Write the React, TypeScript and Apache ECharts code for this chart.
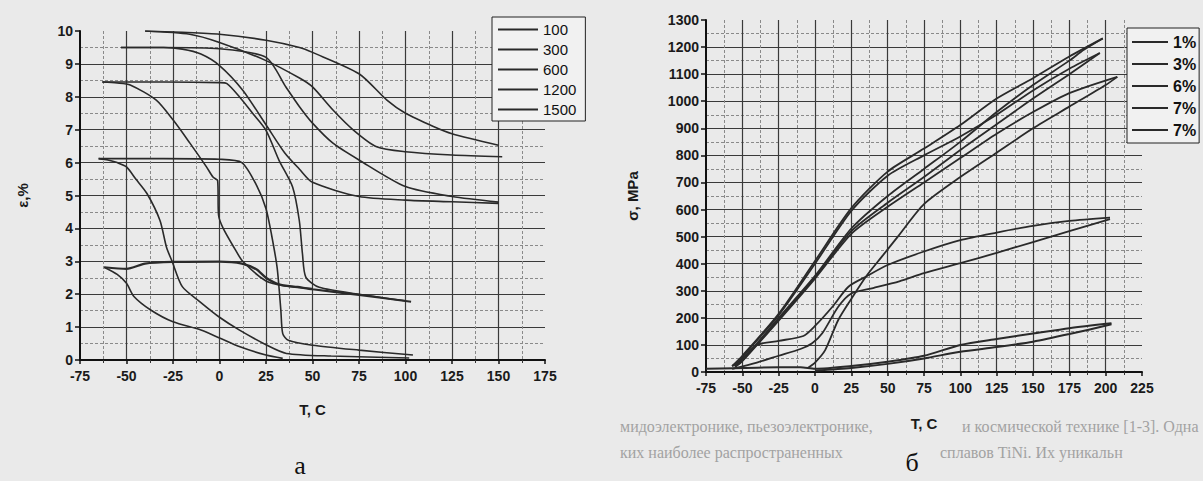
import React, { useEffect, useRef } from "react";
import * as echarts from "echarts";

type P = [number, number][];

// ---------- left chart: strain vs temperature ----------
const leftNames = ["100", "300", "600", "1200", "1500"];
const leftXTicks = { min: -75, max: 175, step: 25 };
const leftYTicks = { min: 0, max: 10, step: 1 };

const eps100Low: P = [[-62, 2.82], [-55, 2.6], [-50, 2.33], [-46, 1.93], [-37, 1.52], [-25, 1.16], [-10, 0.91], [0, 0.67], [11, 0.4], [25, 0.15], [34, 0.05]];
const eps100Up: P = [[-62, 2.82], [-50, 2.77], [-40, 2.93], [-25, 2.98], [0, 2.99], [12, 2.93], [20, 2.75], [25, 2.5], [32, 2.3], [42, 2.22], [50, 2.15], [75, 1.98], [103, 1.77]];
const eps300Low: P = [[-65, 6.12], [-60, 6.08], [-55, 6.0], [-50, 5.87], [-45, 5.5], [-39, 5.06], [-32, 4.24], [-28.5, 3.43], [-25.5, 3.0], [-20, 2.23], [-10.5, 1.77], [0, 1.3], [11, 0.9], [25.5, 0.45], [36, 0.2], [60, 0.12], [102, 0.06]];
const eps300Up: P = [[-65, 6.12], [-30, 6.12], [0, 6.1], [12, 6.0], [20, 5.3], [25, 4.6], [28, 3.8], [31, 2.8], [33, 1.5], [34, 0.8], [37, 0.6], [50, 0.45], [75, 0.3], [104, 0.15]];
const eps600Low: P = [[-63, 8.45], [-55, 8.42], [-48, 8.36], [-34, 7.9], [-25, 7.3], [-16, 6.6], [-7, 5.87], [-3.5, 5.56], [-1, 5.45], [-0.5, 4.4], [2, 4.0], [8, 3.4], [12.5, 3.0], [25, 2.4], [35, 2.25], [50, 2.17]];
const eps600Up: P = [[-63, 8.45], [-30, 8.45], [0, 8.43], [4, 8.4], [10.7, 8.0], [17.9, 7.49], [25, 6.98], [32, 6.07], [39.3, 5.26], [42.9, 4.24], [44.6, 3.23], [46.4, 2.52], [53.6, 2.21], [75, 2.0], [100, 1.8]];
const eps1200Low: P = [[-53, 9.5], [-30, 9.5], [-20, 9.45], [-10, 9.3], [0, 8.95], [12.5, 8.2], [25, 7.15], [35, 6.3], [43, 5.8], [50, 5.4], [75, 4.97], [100, 4.86], [125, 4.81], [150, 4.76]];
const eps1200Up: P = [[-53, 9.5], [-30, 9.5], [0, 9.46], [25, 9.2], [35.7, 8.3], [43, 7.7], [50, 7.2], [61, 6.59], [75, 6.08], [100, 5.27], [125, 4.97], [150, 4.8]];
const eps1500Up: P = [[-40, 10.0], [-20, 9.96], [0, 9.9], [25, 9.72], [43, 9.5], [50, 9.35], [75, 8.7], [90, 7.9], [100, 7.5], [115, 7.1], [125, 6.88], [150, 6.53]];
const eps1500Low: P = [[-40, 10.0], [-16, 9.9], [0, 9.65], [25, 9.1], [43, 8.57], [50, 8.3], [61, 7.6], [72, 6.99], [84.5, 6.48], [100, 6.33], [125, 6.23], [152, 6.18]];

// ---------- right chart: stress vs temperature ----------
const rightNames = ["1%", "3%", "6%", "7%", "7% "];
const rightXTicks = { min: -75, max: 225, step: 25 };
const rightYTicks = { min: 0, max: 1300, step: 100 };

const sig1A: P = [[-75, 12], [-40, 16], [-10, 18], [0, 12], [25, 22], [50, 38], [75, 60], [100, 100], [125, 122], [150, 142], [175, 162], [204, 180]];
const sig1B: P = [[204, 176], [175, 140], [150, 112], [125, 92], [100, 75], [75, 50], [50, 30], [25, 15], [0, 5]];
const sig3A: P = [[-57, 22], [-50, 50], [-40, 100], [-25, 115], [-8, 133], [0, 170], [12, 241], [23, 315], [35, 352], [50, 395], [75, 445], [100, 487], [125, 515], [150, 540], [175, 558], [203, 570]];
const sig3B: P = [[203, 565], [175, 520], [150, 480], [125, 440], [100, 402], [75, 365], [58, 335], [40, 310], [25, 290], [16, 241], [5, 143], [-2, 106], [-10, 85], [-25, 60], [-40, 35], [-57, 12]];
const sig6A: P = [[-55, 18], [-50, 40], [-25, 190], [0, 345], [25, 510], [50, 610], [75, 700], [100, 790], [125, 880], [150, 960], [175, 1030], [208, 1090]];
const sig6B: P = [[208, 1090], [200, 1060], [175, 980], [150, 900], [125, 810], [100, 720], [75, 620], [57, 500], [46, 426], [35, 352], [25, 270], [16, 192], [7, 81], [0, 35], [-5, 15]];
const sig7aA: P = [[-55, 20], [-50, 55], [-25, 210], [0, 400], [25, 595], [50, 725], [75, 800], [100, 870], [125, 950], [150, 1040], [175, 1120], [196, 1178]];
const sig7aB: P = [[196, 1178], [175, 1100], [150, 1010], [125, 915], [100, 820], [75, 720], [50, 625], [25, 520], [0, 350], [-25, 195], [-50, 42], [-55, 20]];
const sig7bA: P = [[-57, 22], [-50, 60], [-25, 215], [0, 410], [25, 605], [50, 740], [75, 825], [100, 912], [125, 1010], [150, 1085], [175, 1165], [198, 1232]];
const sig7bB: P = [[198, 1232], [185, 1190], [175, 1150], [150, 1060], [125, 960], [100, 850], [75, 750], [50, 650], [25, 530], [0, 355], [-25, 200], [-50, 45], [-57, 22]];

const FONT = "'Liberation Sans', Arial, sans-serif";
const SERIF = "'Liberation Serif', 'DejaVu Serif', serif";
const INK = "#2a2a2a";

function line(name: string, data: P, idx: number, width = 1.6) {
  return {
    type: "line",
    name,
    data,
    xAxisIndex: idx,
    yAxisIndex: idx,
    showSymbol: false,
    smooth: 0.25,
    color: INK,
    lineStyle: { color: INK, width },
    emphasis: { disabled: true },
  };
}

const plain = (v: number) => String(v);

function xAxis(idx: number, t: { min: number; max: number; step: number }, gap: number) {
  return {
    type: "value",
    gridIndex: idx,
    min: t.min,
    max: t.max,
    interval: t.step,
    name: "T, C",
    nameLocation: "middle",
    nameGap: gap,
    nameTextStyle: { fontFamily: FONT, fontSize: 15, fontWeight: "bold", color: "#1a1a1a" },
    axisLine: { show: true, onZero: false, lineStyle: { color: "#111", width: 2 } },
    axisTick: { show: true, length: 4, lineStyle: { color: "#111", width: 1.5 } },
    minorTick: { show: true, splitNumber: 2, length: 3, lineStyle: { color: "#333" } },
    axisLabel: { fontFamily: FONT, fontSize: 14, fontWeight: "bold", color: "#1a1a1a", margin: 9, formatter: plain },
    splitLine: { show: true, showMinLine: false, showMaxLine: false, lineStyle: { color: "#3a3a3a", width: 1.2 } },
    minorSplitLine: { show: true, lineStyle: { color: "#8a8a8a", type: [3, 2], width: 1 } },
  };
}

function yAxis(idx: number, t: { min: number; max: number; step: number }, name: string, gap: number) {
  return {
    type: "value",
    gridIndex: idx,
    min: t.min,
    max: t.max,
    interval: t.step,
    name,
    nameLocation: "middle",
    nameGap: gap,
    nameRotate: 90,
    nameTextStyle: { fontFamily: FONT, fontSize: 15, fontWeight: "bold", color: "#1a1a1a" },
    axisLine: { show: true, onZero: false, lineStyle: { color: "#111", width: 2 } },
    axisTick: { show: true, length: 5, lineStyle: { color: "#111", width: 1.5 } },
    minorTick: { show: false, splitNumber: 2 },
    axisLabel: { fontFamily: FONT, fontSize: 14, fontWeight: "bold", color: "#1a1a1a", margin: 7, formatter: plain },
    splitLine: { show: true, showMinLine: false, showMaxLine: false, lineStyle: { color: "#3a3a3a", width: 1.2 } },
    minorSplitLine: { show: true, lineStyle: { color: "#8a8a8a", type: [3, 2], width: 1 } },
  };
}

const faint = (x: number, y: number, text: string) => ({
  type: "text",
  x,
  y,
  z: -1,
  style: { text, font: `16px ${SERIF}`, fill: "#a2a2a2", textVerticalAlign: "middle" },
});

export default function App() {
  const ref = useRef<HTMLDivElement>(null);
  useEffect(() => {
    if (!ref.current) return;
    const chart = echarts.init(ref.current, null, { renderer: "svg" });
    const series = [
      line(leftNames[0], eps100Low, 0),
      line(leftNames[0], eps100Up, 0, 2.2),
      line(leftNames[1], eps300Low, 0),
      line(leftNames[1], eps300Up, 0),
      line(leftNames[2], eps600Low, 0),
      line(leftNames[2], eps600Up, 0),
      line(leftNames[3], eps1200Low, 0),
      line(leftNames[3], eps1200Up, 0),
      line(leftNames[4], eps1500Up, 0),
      line(leftNames[4], eps1500Low, 0),
      line(rightNames[0], sig1A, 1, 2),
      line(rightNames[0], sig1B, 1, 2),
      line(rightNames[1], sig3A, 1, 1.8),
      line(rightNames[1], sig3B, 1, 1.8),
      line(rightNames[2], sig6A, 1, 1.8),
      line(rightNames[2], sig6B, 1, 1.8),
      line(rightNames[3], sig7aA, 1, 1.8),
      line(rightNames[3], sig7aB, 1, 1.8),
      line(rightNames[4], sig7bA, 1, 1.8),
      line(rightNames[4], sig7bB, 1, 1.8),
    ];
    chart.setOption({
      animation: false,
      backgroundColor: "#eaeaea",
      grid: [
        { left: 80, top: 31, width: 465, height: 329 },
        { left: 706, top: 20, width: 436, height: 352 },
      ],
      xAxis: [xAxis(0, leftXTicks, 42), xAxis(1, rightXTicks, 44)],
      yAxis: [yAxis(0, leftYTicks, "ε,%", 50), yAxis(1, rightYTicks, "σ, MPa", 66)],
      legend: [
        {
          data: leftNames,
          orient: "vertical",
          left: 492,
          top: 17,
          padding: [5, 9, 4, 6],
          itemWidth: 40,
          itemHeight: 2,
          itemGap: 5,
          icon: "rect",
          borderColor: "#222",
          borderWidth: 1,
          backgroundColor: "#f1f1f1",
          selectedMode: false,
          textStyle: { fontFamily: FONT, fontSize: 15, color: "#111" },
        },
        {
          data: rightNames,
          orient: "vertical",
          left: 1127,
          top: 28,
          padding: [6, 3, 5, 5],
          itemWidth: 36,
          itemHeight: 2,
          itemGap: 6,
          icon: "rect",
          borderColor: "#222",
          borderWidth: 1,
          backgroundColor: "#f1f1f1",
          selectedMode: false,
          formatter: (n: string) => n.trim(),
          textStyle: { fontFamily: FONT, fontSize: 16, fontWeight: "bold", color: "#111" },
        },
      ],
      graphic: [
        { type: "text", x: 300, y: 465, z: 10, style: { text: "а", font: `26px ${SERIF}`, fill: "#111", textAlign: "center", textVerticalAlign: "middle" } },
        { type: "text", x: 912, y: 462, z: 10, style: { text: "б", font: `26px ${SERIF}`, fill: "#111", textAlign: "center", textVerticalAlign: "middle" } },
        faint(620, 426, "мидоэлектронике, пьезоэлектронике,"),
        faint(962, 426, "и космической технике [1-3]. Одна"),
        faint(620, 452, "ких наиболее распространенных"),
        faint(940, 452, "сплавов TiNi. Их уникальн"),
      ],
      series,
    });
    return () => chart.dispose();
  }, []);
  return <div ref={ref} style={{ position: "absolute", left: 0, top: 0, width: 1203, height: 481 }} />;
}
